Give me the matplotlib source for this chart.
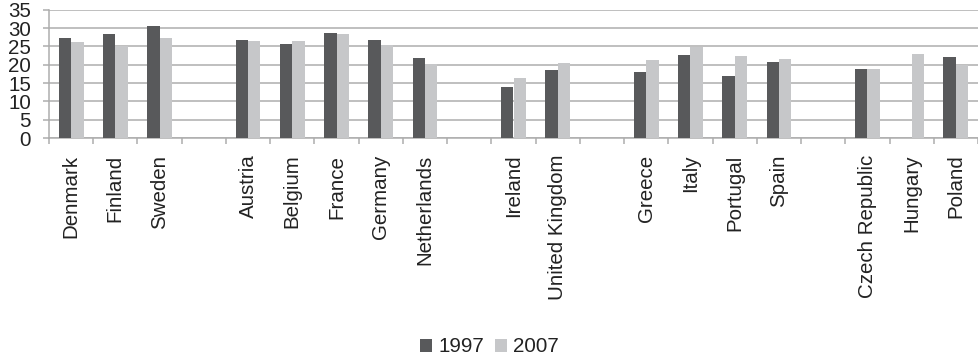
import numpy as np
import matplotlib.pyplot as plt

plt.rcParams['font.family'] = ['Liberation Sans', 'DejaVu Sans']

# empty strings are spacer slots between country groups
countries = ["Denmark", "Finland", "Sweden", "",
             "Austria", "Belgium", "France", "Germany", "Netherlands", "",
             "Ireland", "United Kingdom", "",
             "Greece", "Italy", "Portugal", "Spain", "",
             "Czech Republic", "Hungary", "Poland"]
nan = np.nan
v1997 = [27.2, 28.5, 30.5, nan,
         26.8, 25.7, 28.6, 26.7, 21.8, nan,
         13.9, 18.6, nan,
         17.9, 22.7, 16.9, 20.7, nan,
         18.7, nan, 22.2]
v2007 = [26.2, 25.0, 27.4, nan,
         26.5, 26.4, 28.4, 25.3, 20.1, nan,
         16.4, 20.5, nan,
         21.3, 24.9, 22.5, 21.5, nan,
         18.7, 22.9, 19.9]
yticks = [0, 5, 10, 15, 20, 25, 30, 35]

dark = "#58595b"
light = "#c6c7c9"
grey = "#adadad"
text = "#222222"

fig = plt.figure(figsize=(9.79, 3.59), dpi=100)
ax = fig.add_axes([49 / 979, 1 - 138 / 359, 929 / 979, 128.3 / 359])

x = np.arange(len(countries))
w = 0.28
ax.bar(x - w / 2, v1997, w, color=dark, label="1997", zorder=3)
ax.bar(x + w / 2, v2007, w, color=light, label="2007", zorder=3)

ax.set_xlim(-0.5, len(countries) - 0.5)
ax.set_ylim(0, 35)
ax.set_yticks(yticks)
ax.yaxis.grid(True, color=grey, linewidth=1.1, zorder=0)

# labels sit at slot centres, tick marks at slot boundaries
ax.set_xticks(x)
ax.set_xticklabels(countries, rotation=90, fontsize=14.8, color=text)
ax.set_xticks(np.arange(len(countries) + 1) - 0.5, minor=True)
ax.tick_params(axis="x", which="major", length=0, pad=12)
ax.tick_params(axis="x", which="minor", length=4, color=grey, width=1.1)
ax.tick_params(axis="y", length=4, color=grey, width=1.1, labelsize=14.8,
               labelcolor=text, pad=9)

for side in ["top", "right"]:
    ax.spines[side].set_visible(False)
for side in ["left", "bottom"]:
    ax.spines[side].set_color(grey)
    ax.spines[side].set_linewidth(1.1)

leg = fig.legend(loc="center", bbox_to_anchor=(0.5, 1 - 347 / 359), ncol=2,
                 frameon=False, fontsize=14.8, handlelength=0.6, handleheight=0.6,
                 handletextpad=0.3, columnspacing=0.5)
for t in leg.get_texts():
    t.set_color(text)

fig.savefig("out.png", dpi=100)
